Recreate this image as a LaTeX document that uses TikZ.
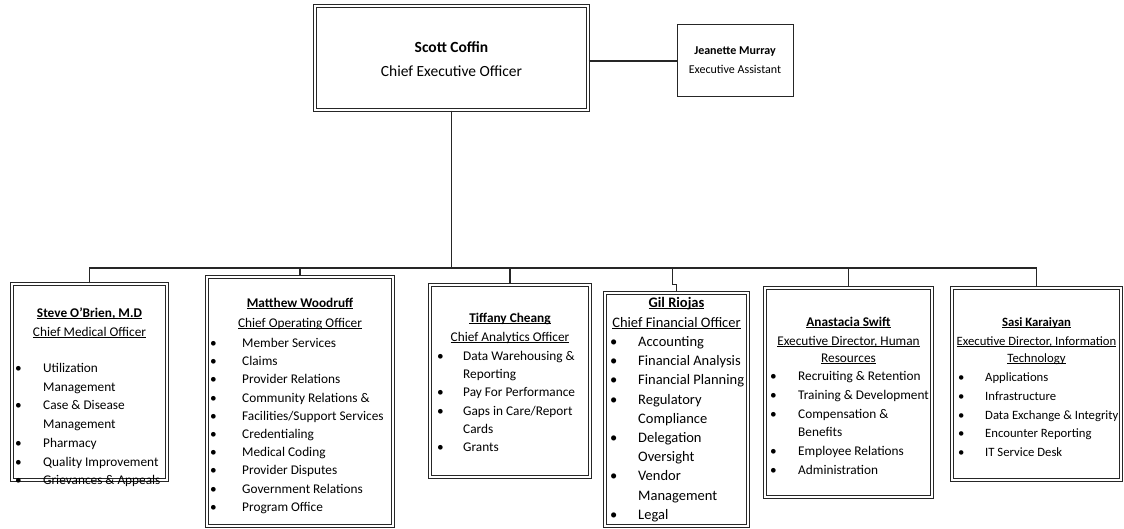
\documentclass[tikz,border=0pt]{standalone}
\usepackage{fontspec}
\setmainfont{Carlito}
\newcommand\undl[1]{\setbox0\hbox{#1}\rlap{\rule[-1.6pt]{\wd0}{0.65pt}}\box0}
\tikzset{
  box/.style={draw=black!85, line width=1.2pt, double=white, double distance=1.1pt, inner sep=0, fill=white},
  plainbox/.style={draw=black!85, line width=1pt, inner sep=0, fill=white},
  conn/.style={draw=black!85, line width=1.1pt},
  txt/.style={inner sep=0, anchor=base west},
  hdr/.style={inner sep=0, anchor=base},
  bul/.style={inner sep=0, anchor=base west}
}
\newcommand\itemlist[6]{%
  \foreach \bb/\itx [count=\i from 0] in {#6}{%
    \node[txt] (#1-t\i) at (#3,{#4+#5*\i}) {\itx};
    \ifnum\bb=1 \node[bul] (#1-b\i) at (#2,{#4+#5*\i}) {•};\fi
  }}
\begin{document}
\begin{tikzpicture}[x=1pt,y=-1pt]
\useasboundingbox (0,0) rectangle (1124,529);
% boxes
\node[box, minimum width=273, minimum height=104] (ceo) at (451.5,58) {};
\node[plainbox, minimum width=116, minimum height=72] (asst) at (735,61) {};
\node[box, minimum width=155, minimum height=196] (cmo) at (89.5,382) {};
\node[box, minimum width=186, minimum height=249] (coo) at (300,401.5) {};
\node[box, minimum width=160, minimum height=192] (cao) at (510,381) {};
\node[box, minimum width=143, minimum height=233] (cfo) at (676.5,409.5) {};
\node[box, minimum width=167, minimum height=209] (hr) at (848.5,392.5) {};
\node[box, minimum width=169, minimum height=192] (cito) at (1036.5,384) {};
% connectors
\coordinate (bus) at (451.5,268);
\draw[conn] (asst.west -| ceo.east) -- (asst.west);
\draw[conn] (ceo.south) -- (bus);
\draw[conn] (cmo.north) |- (cito.north |- bus) -- (cito.north);
\draw[conn] (coo.north |- bus) -- (coo.north);
\draw[conn] (cao.north |- bus) -- (cao.north);
\draw[conn] ([xshift=-4pt]cfo.north |- bus) |- ([yshift=8pt]cfo.north) -- (cfo.north);
\draw[conn] (hr.north |- bus) -- (hr.north);
% CEO text
\begin{scope}[font=\fontsize{15.5}{18}\selectfont]
\node[hdr, font=\fontsize{15.5}{18}\selectfont\bfseries] (ceo-n) at (451.5,53) {Scott Coffin};
\node[hdr] (ceo-t) at (451.5,77) {Chief Executive Officer};
\end{scope}
\begin{scope}[font=\fontsize{12}{14}\selectfont]
\node[hdr, font=\fontsize{12}{14}\selectfont\bfseries] (asst-n) at (735,55) {Jeanette Murray};
\node[hdr] (asst-t) at (735,74) {Executive Assistant};
\end{scope}
% box texts
\begin{scope}[font=\fontsize{13.3}{16}\selectfont]
\node[hdr] (cmo-n) at (89.5,317.5) {\bfseries\undl{Steve O'Brien, M.D}};
\node[hdr] (cmo-ti) at (89.5,336.5) {\undl{Chief Medical Officer}};
\itemlist{cmo}{15}{43}{372.5}{18.7}{1/Utilization, 0/Management, 1/{Case \& Disease}, 0/Management, 1/Pharmacy, 1/{Quality Improvement}, 1/{Grievances \& Appeals}}

\node[hdr] (coo-n) at (300,307.5) {\bfseries\undl{Matthew Woodruff}};
\node[hdr] (coo-ti) at (300,327.5) {\undl{Chief Operating Officer}};
\itemlist{coo}{210}{242}{347.5}{18.2}{1/{Member Services}, 1/Claims, 1/{Provider Relations}, 1/{Community Relations \&}, 1/{Facilities/Support Services}, 1/Credentialing, 1/{Medical Coding}, 1/{Provider Disputes}, 1/{Government Relations}, 1/{Program Office}}

\node[hdr] (cao-n) at (510,322.5) {\bfseries\undl{Tiffany Cheang}};
\node[hdr] (cao-ti) at (510,341.5) {\undl{Chief Analytics Officer}};
\itemlist{cao}{437}{463}{360.5}{18.2}{1/{Data Warehousing \&}, 0/Reporting, 1/{Pay For Performance}, 1/{Gaps in Care/Report}, 0/Cards, 1/Grants}

\node[hdr] (hr-n) at (848.5,326.5) {\bfseries\undl{Anastacia Swift}};
\node[hdr] (hr-t1) at (848.5,345.5) {\undl{Executive Director, Human}};
\node[hdr] (hr-t2) at (848.5,362.5) {\undl{Resources}};
\itemlist{hr}{770}{798}{380.5}{18.8}{1/{Recruiting \& Retention}, 1/{Training \& Development}, 1/{Compensation \&}, 0/Benefits, 1/{Employee Relations}, 1/Administration}
\end{scope}
\begin{scope}[font=\fontsize{12.7}{15}\selectfont]
\node[hdr] (cito-n) at (1036.5,326.5) {\bfseries\undl{Sasi Karaiyan}};
\node[hdr] (cito-t1) at (1036.5,345.5) {\undl{Executive Director, Information}};
\node[hdr] (cito-t2) at (1036.5,362.5) {\undl{Technology}};
\itemlist{cito}{958}{985}{381.5}{18.75}{1/Applications, 1/Infrastructure, 1/{Data Exchange \& Integrity}, 1/{Encounter Reporting}, 1/{IT Service Desk}}
\end{scope}
\begin{scope}[font=\fontsize{14.5}{17}\selectfont]
\node[hdr] (cfo-n) at (676.5,307.5) {\bfseries\undl{Gil Riojas}};
\node[hdr] (cfo-ti) at (676.5,327) {\undl{Chief Financial Officer}};
\itemlist{cfo}{610}{638}{346.5}{19.2}{1/Accounting, 1/{Financial Analysis}, 1/{Financial Planning}, 1/Regulatory, 0/Compliance, 1/Delegation, 0/Oversight, 1/Vendor, 0/Management, 1/Legal}
\end{scope}
\end{tikzpicture}
\end{document}
